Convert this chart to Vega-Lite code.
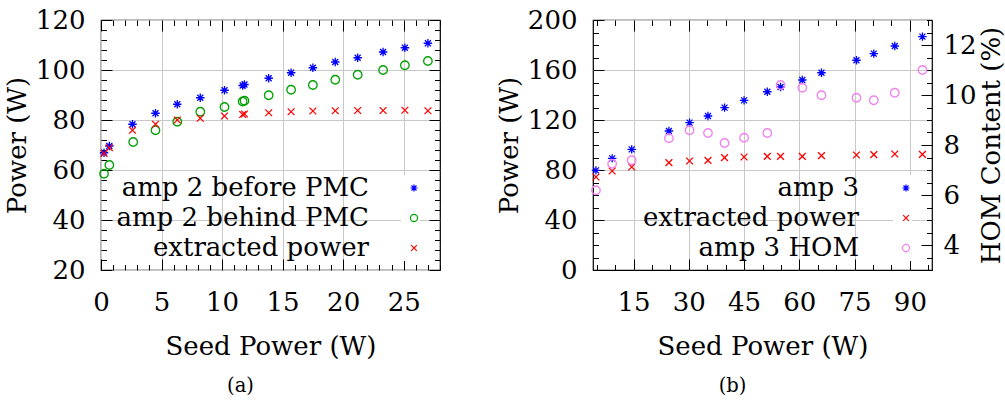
{
  "$schema": "https://vega.github.io/schema/vega-lite/v6.json",
  "padding": {"left": 3, "top": 6, "right": 0, "bottom": 0},
  "autosize": {"type": "pad"},
  "spacing": 53,
  "resolve": {"scale": {"color": "independent", "shape": "independent"}, "legend": {"color": "independent", "shape": "independent"}},
  "config": {
    "view": {"stroke": "black", "strokeWidth": 1.2},
    "font": "DejaVu Serif",
    "axis": {"labelFont": "DejaVu Serif", "titleFont": "DejaVu Serif", "labelFontSize": 26, "titleFontSize": 26, "titleFontWeight": "normal", "labelColor": "black", "titleColor": "black", "tickColor": "black", "domain": false, "labelFlush": false, "labelOverlap": false, "gridColor": "#c8c8c8", "gridWidth": 1, "tickWidth": 1},
    "legend": {"labelFont": "DejaVu Serif", "labelFontSize": 26, "labelColor": "black"}
  },
  "datasets": {
    "a": [
      {"series": "amp 2 before PMC", "seed": 0.25, "power": 66.9},
      {"series": "amp 2 before PMC", "seed": 0.69, "power": 69.6},
      {"series": "amp 2 before PMC", "seed": 2.6, "power": 78.3},
      {"series": "amp 2 before PMC", "seed": 4.5, "power": 82.7},
      {"series": "amp 2 before PMC", "seed": 6.3, "power": 86.3},
      {"series": "amp 2 before PMC", "seed": 8.2, "power": 88.9},
      {"series": "amp 2 before PMC", "seed": 10.2, "power": 91.9},
      {"series": "amp 2 before PMC", "seed": 11.7, "power": 93.8},
      {"series": "amp 2 before PMC", "seed": 11.85, "power": 94.2},
      {"series": "amp 2 before PMC", "seed": 13.85, "power": 96.7},
      {"series": "amp 2 before PMC", "seed": 15.7, "power": 98.9},
      {"series": "amp 2 before PMC", "seed": 17.5, "power": 100.9},
      {"series": "amp 2 before PMC", "seed": 19.35, "power": 103.2},
      {"series": "amp 2 before PMC", "seed": 21.2, "power": 104.9},
      {"series": "amp 2 before PMC", "seed": 23.3, "power": 107.2},
      {"series": "amp 2 before PMC", "seed": 25.1, "power": 108.9},
      {"series": "amp 2 before PMC", "seed": 27.0, "power": 110.7},
      {"series": "amp 2 behind PMC", "seed": 0.25, "power": 58.5},
      {"series": "amp 2 behind PMC", "seed": 0.69, "power": 62.0},
      {"series": "amp 2 behind PMC", "seed": 2.66, "power": 71.2},
      {"series": "amp 2 behind PMC", "seed": 4.5, "power": 75.9},
      {"series": "amp 2 behind PMC", "seed": 6.3, "power": 79.3},
      {"series": "amp 2 behind PMC", "seed": 8.2, "power": 83.3},
      {"series": "amp 2 behind PMC", "seed": 10.2, "power": 85.2},
      {"series": "amp 2 behind PMC", "seed": 11.7, "power": 87.4},
      {"series": "amp 2 behind PMC", "seed": 11.85, "power": 87.7},
      {"series": "amp 2 behind PMC", "seed": 13.85, "power": 89.9},
      {"series": "amp 2 behind PMC", "seed": 15.7, "power": 92.1},
      {"series": "amp 2 behind PMC", "seed": 17.5, "power": 94.0},
      {"series": "amp 2 behind PMC", "seed": 19.35, "power": 96.1},
      {"series": "amp 2 behind PMC", "seed": 21.2, "power": 98.1},
      {"series": "amp 2 behind PMC", "seed": 23.3, "power": 100.0},
      {"series": "amp 2 behind PMC", "seed": 25.1, "power": 101.9},
      {"series": "amp 2 behind PMC", "seed": 27.0, "power": 103.6},
      {"series": "extracted power", "seed": 0.25, "power": 66.6},
      {"series": "extracted power", "seed": 0.69, "power": 68.9},
      {"series": "extracted power", "seed": 2.6, "power": 75.9},
      {"series": "extracted power", "seed": 4.5, "power": 78.3},
      {"series": "extracted power", "seed": 6.3, "power": 80.0},
      {"series": "extracted power", "seed": 8.2, "power": 80.7},
      {"series": "extracted power", "seed": 10.2, "power": 81.6},
      {"series": "extracted power", "seed": 11.7, "power": 82.2},
      {"series": "extracted power", "seed": 11.85, "power": 82.4},
      {"series": "extracted power", "seed": 13.85, "power": 82.9},
      {"series": "extracted power", "seed": 15.7, "power": 83.3},
      {"series": "extracted power", "seed": 17.5, "power": 83.6},
      {"series": "extracted power", "seed": 19.35, "power": 83.7},
      {"series": "extracted power", "seed": 21.2, "power": 83.8},
      {"series": "extracted power", "seed": 23.3, "power": 83.8},
      {"series": "extracted power", "seed": 25.1, "power": 83.9},
      {"series": "extracted power", "seed": 27.0, "power": 83.7}
    ],
    "b": [
      {"series": "amp 3", "seed": 4.8, "value": 79.7},
      {"series": "amp 3", "seed": 9.2, "value": 89.3},
      {"series": "amp 3", "seed": 14.5, "value": 96.5},
      {"series": "amp 3", "seed": 24.6, "value": 111.2},
      {"series": "amp 3", "seed": 30.2, "value": 117.9},
      {"series": "amp 3", "seed": 35.2, "value": 123.2},
      {"series": "amp 3", "seed": 39.7, "value": 129.9},
      {"series": "amp 3", "seed": 45.0, "value": 135.7},
      {"series": "amp 3", "seed": 51.3, "value": 142.6},
      {"series": "amp 3", "seed": 54.9, "value": 146.4},
      {"series": "amp 3", "seed": 60.8, "value": 152.0},
      {"series": "amp 3", "seed": 66.0, "value": 157.8},
      {"series": "amp 3", "seed": 75.5, "value": 167.8},
      {"series": "amp 3", "seed": 80.2, "value": 173.1},
      {"series": "amp 3", "seed": 85.9, "value": 179.2},
      {"series": "amp 3", "seed": 93.4, "value": 186.7},
      {"series": "extracted power", "seed": 4.8, "value": 74.4},
      {"series": "extracted power", "seed": 9.2, "value": 79.2},
      {"series": "extracted power", "seed": 14.5, "value": 82.4},
      {"series": "extracted power", "seed": 24.6, "value": 85.9},
      {"series": "extracted power", "seed": 30.2, "value": 87.2},
      {"series": "extracted power", "seed": 35.2, "value": 87.7},
      {"series": "extracted power", "seed": 39.7, "value": 89.9},
      {"series": "extracted power", "seed": 45.0, "value": 90.4},
      {"series": "extracted power", "seed": 51.3, "value": 90.9},
      {"series": "extracted power", "seed": 54.9, "value": 90.9},
      {"series": "extracted power", "seed": 60.8, "value": 90.9},
      {"series": "extracted power", "seed": 66.0, "value": 91.5},
      {"series": "extracted power", "seed": 75.5, "value": 92.0},
      {"series": "extracted power", "seed": 80.2, "value": 92.3},
      {"series": "extracted power", "seed": 85.9, "value": 92.8},
      {"series": "extracted power", "seed": 93.4, "value": 92.5},
      {"series": "amp 3 HOM", "seed": 4.8, "value": 6.19},
      {"series": "amp 3 HOM", "seed": 9.2, "value": 7.25},
      {"series": "amp 3 HOM", "seed": 14.5, "value": 7.39},
      {"series": "amp 3 HOM", "seed": 24.6, "value": 8.27},
      {"series": "amp 3 HOM", "seed": 30.2, "value": 8.59},
      {"series": "amp 3 HOM", "seed": 35.2, "value": 8.48},
      {"series": "amp 3 HOM", "seed": 39.7, "value": 8.08},
      {"series": "amp 3 HOM", "seed": 45.0, "value": 8.29},
      {"series": "amp 3 HOM", "seed": 51.3, "value": 8.48},
      {"series": "amp 3 HOM", "seed": 54.9, "value": 10.4},
      {"series": "amp 3 HOM", "seed": 60.8, "value": 10.29},
      {"series": "amp 3 HOM", "seed": 66.0, "value": 9.99},
      {"series": "amp 3 HOM", "seed": 75.5, "value": 9.89},
      {"series": "amp 3 HOM", "seed": 80.2, "value": 9.79},
      {"series": "amp 3 HOM", "seed": 85.9, "value": 10.09},
      {"series": "amp 3 HOM", "seed": 93.4, "value": 11.0}
    ]
  },
  "hconcat": [
    {
      "width": 339,
      "height": 250,
      "title": {"text": "(a)", "orient": "bottom", "anchor": "middle", "dx": -30, "offset": 17, "font": "DejaVu Serif", "fontSize": 19.5, "fontWeight": "normal", "color": "black"},
      "data": {"name": "a"},
      "layer": [
        {
          "transform": [{"filter": "datum.series !== 'extracted power'"}],
          "mark": {"type": "point", "filled": false, "size": 72, "strokeWidth": 1.3, "opacity": 1},
          "encoding": {
            "x": {"field": "seed", "type": "quantitative", "scale": {"domain": [0, 28], "nice": false, "zero": false},
              "axis": {"orient": "bottom", "title": "Seed Power (W)", "values": [0,1,2,3,4,5,6,7,8,9,10,11,12,13,14,15,16,17,18,19,20,21,22,23,24,25,26,27,28],
                "labelExpr": "datum.value % 5 === 0 ? datum.label : ''",
                "tickSize": {"condition": {"test": "datum.value % 5 === 0", "value": -11}, "value": -5.5},
                "grid": true, "gridOpacity": {"condition": {"test": "datum.value % 5 === 0", "value": 1}, "value": 0},
                "labelPadding": 30, "titlePadding": 13}},
            "y": {"field": "power", "type": "quantitative", "scale": {"domain": [20, 120], "nice": false, "zero": false},
              "axis": {"orient": "left", "title": "Power (W)", "values": [20,24,28,32,36,40,44,48,52,56,60,64,68,72,76,80,84,88,92,96,100,104,108,112,116,120],
                "labelExpr": "datum.value % 20 === 0 ? datum.label : ''",
                "tickSize": {"condition": {"test": "datum.value % 20 === 0", "value": -11}, "value": -5.5},
                "grid": true, "gridOpacity": {"condition": {"test": "datum.value % 20 === 0", "value": 1}, "value": 0},
                "labelPadding": 27, "titlePadding": 5}},
            "color": {"field": "series", "type": "nominal",
              "scale": {"domain": ["amp 2 before PMC", "amp 2 behind PMC", "extracted power"], "range": ["#0000ff", "#00a000", "#ff0000"]},
              "legend": {"orient": "none", "legendX": 300, "legendY": 155, "title": null, "labelAlign": "right", "labelOffset": -58, "symbolSize": 50, "symbolStrokeWidth": 1.2, "rowPadding": 4, "padding": 0, "fillColor": "white", "labelLimit": 400}},
            "shape": {"field": "series", "type": "nominal",
              "scale": {"domain": ["amp 2 before PMC", "amp 2 behind PMC", "extracted power"], "range": ["M-1,0L1,0M0,-1L0,1M-0.7,-0.7L0.7,0.7M-0.7,0.7L0.7,-0.7", "circle", "M-0.8,-0.8L0.8,0.8M-0.8,0.8L0.8,-0.8"]}}
          }
        },
        {
          "transform": [{"filter": "datum.series === 'extracted power'"}],
          "mark": {"type": "point", "filled": false, "size": 72, "strokeWidth": 1.3, "opacity": 1},
          "encoding": {
            "x": {"field": "seed", "type": "quantitative", "scale": {"domain": [0, 28], "nice": false, "zero": false},
              "axis": {"orient": "top", "title": null, "labels": false, "grid": false, "values": [0,1,2,3,4,5,6,7,8,9,10,11,12,13,14,15,16,17,18,19,20,21,22,23,24,25,26,27,28],
                "tickSize": {"condition": {"test": "datum.value % 5 === 0", "value": -11}, "value": -5.5}}},
            "y": {"field": "power", "type": "quantitative", "scale": {"domain": [20, 120], "nice": false, "zero": false},
              "axis": {"orient": "right", "title": null, "labels": false, "grid": false, "values": [20,24,28,32,36,40,44,48,52,56,60,64,68,72,76,80,84,88,92,96,100,104,108,112,116,120],
                "tickSize": {"condition": {"test": "datum.value % 20 === 0", "value": -11}, "value": -5.5}}},
            "color": {"field": "series", "type": "nominal",
              "scale": {"domain": ["amp 2 before PMC", "amp 2 behind PMC", "extracted power"], "range": ["#0000ff", "#00a000", "#ff0000"]}},
            "shape": {"field": "series", "type": "nominal",
              "scale": {"domain": ["amp 2 before PMC", "amp 2 behind PMC", "extracted power"], "range": ["M-1,0L1,0M0,-1L0,1M-0.7,-0.7L0.7,0.7M-0.7,0.7L0.7,-0.7", "circle", "M-0.8,-0.8L0.8,0.8M-0.8,0.8L0.8,-0.8"]}}
          }
        }
      ],
      "resolve": {"axis": {"x": "independent", "y": "independent"}}
    },
    {
      "width": 339,
      "height": 250,
      "title": {"text": "(b)", "orient": "bottom", "anchor": "middle", "dx": -30, "offset": 17, "font": "DejaVu Serif", "fontSize": 19.5, "fontWeight": "normal", "color": "black"},
      "data": {"name": "b"},
      "layer": [
        {
          "transform": [{"filter": "datum.series !== 'amp 3 HOM'"}],
          "mark": {"type": "point", "filled": false, "size": 72, "strokeWidth": 1.3, "opacity": 1},
          "encoding": {
            "x": {"field": "seed", "type": "quantitative", "scale": {"domain": [4, 96], "nice": false, "zero": false},
              "axis": {"orient": "bottom", "title": "Seed Power (W)", "values": [5,10,15,20,25,30,35,40,45,50,55,60,65,70,75,80,85,90,95],
                "labelExpr": "datum.value % 15 === 0 ? datum.label : ''",
                "tickSize": {"condition": {"test": "datum.value % 15 === 0", "value": -11}, "value": -5.5},
                "grid": true, "gridOpacity": {"condition": {"test": "datum.value % 15 === 0", "value": 1}, "value": 0},
                "labelPadding": 30, "titlePadding": 13}},
            "y": {"field": "value", "type": "quantitative", "scale": {"domain": [0, 200], "nice": false, "zero": false},
              "axis": {"orient": "left", "title": "Power (W)", "values": [0,10,20,30,40,50,60,70,80,90,100,110,120,130,140,150,160,170,180,190,200],
                "labelExpr": "datum.value % 40 === 0 ? datum.label : ''",
                "tickSize": {"condition": {"test": "datum.value % 40 === 0", "value": -11}, "value": -5.5},
                "grid": true, "gridOpacity": {"condition": {"test": "datum.value % 40 === 0 && datum.value > 0", "value": 1}, "value": 0},
                "labelPadding": 27, "titlePadding": 5}},
            "color": {"field": "series", "type": "nominal",
              "scale": {"domain": ["amp 3", "extracted power", "amp 3 HOM"], "range": ["#0000ff", "#ff0000", "#ee82ee"]},
              "legend": {"orient": "none", "legendX": 300, "legendY": 155, "title": null, "labelAlign": "right", "labelOffset": -60, "symbolSize": 50, "symbolStrokeWidth": 1.2, "rowPadding": 4, "padding": 0, "fillColor": "white", "labelLimit": 400}},
            "shape": {"field": "series", "type": "nominal",
              "scale": {"domain": ["amp 3", "extracted power", "amp 3 HOM"], "range": ["M-1,0L1,0M0,-1L0,1M-0.7,-0.7L0.7,0.7M-0.7,0.7L0.7,-0.7", "M-0.8,-0.8L0.8,0.8M-0.8,0.8L0.8,-0.8", "circle"]}}
          }
        },
        {
          "transform": [{"filter": "datum.series === 'amp 3 HOM'"}],
          "mark": {"type": "point", "filled": false, "size": 72, "strokeWidth": 1.3, "opacity": 1},
          "encoding": {
            "x": {"field": "seed", "type": "quantitative", "scale": {"domain": [4, 96], "nice": false, "zero": false},
              "axis": {"orient": "top", "title": null, "labels": false, "grid": false, "values": [5,10,15,20,25,30,35,40,45,50,55,60,65,70,75,80,85,90,95],
                "tickSize": {"condition": {"test": "datum.value % 15 === 0", "value": -11}, "value": -5.5}}},
            "y": {"field": "value", "type": "quantitative", "scale": {"domain": [3, 13], "nice": false, "zero": false},
              "axis": {"orient": "right", "title": "HOM Content (%)", "titleAngle": 270, "titleBaseline": "top", "values": [3,3.5,4,4.5,5,5.5,6,6.5,7,7.5,8,8.5,9,9.5,10,10.5,11,11.5,12,12.5,13],
                "labelExpr": "datum.value % 2 === 0 ? format(datum.value, 'd') : ''",
                "tickSize": {"condition": {"test": "datum.value % 2 === 0", "value": -11}, "value": -5.5},
                "grid": false, "labelPadding": 22, "titlePadding": 2}},
            "color": {"field": "series", "type": "nominal",
              "scale": {"domain": ["amp 3", "extracted power", "amp 3 HOM"], "range": ["#0000ff", "#ff0000", "#ee82ee"]}},
            "shape": {"field": "series", "type": "nominal",
              "scale": {"domain": ["amp 3", "extracted power", "amp 3 HOM"], "range": ["M-1,0L1,0M0,-1L0,1M-0.7,-0.7L0.7,0.7M-0.7,0.7L0.7,-0.7", "M-0.8,-0.8L0.8,0.8M-0.8,0.8L0.8,-0.8", "circle"]}}
          }
        }
      ],
      "resolve": {"scale": {"y": "independent"}, "axis": {"x": "independent", "y": "independent"}}
    }
  ]
}
